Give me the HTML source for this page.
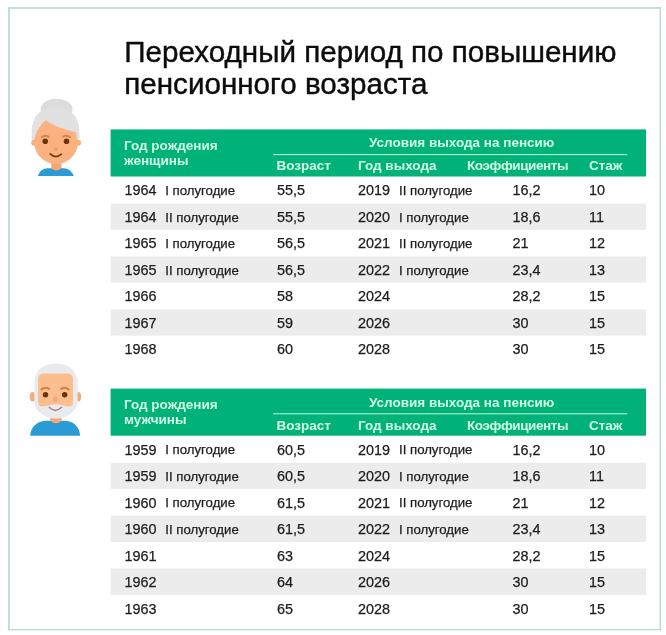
<!DOCTYPE html>
<html lang="ru"><head><meta charset="utf-8"><title>Переходный период по повышению пенсионного возраста</title>
<style>
html,body{margin:0;padding:0;background:#fff;}
body{width:666px;height:635px;position:relative;overflow:hidden;font-family:"Liberation Sans",Arial,sans-serif;color:#222;}
h1{position:absolute;left:124.3px;top:36.1px;margin:0;font-weight:normal;font-size:29.6px;line-height:31.9px;color:#0c0c0c;-webkit-text-stroke:0.4px #0c0c0c;white-space:nowrap;letter-spacing:0;}
.tbl{position:absolute;left:111px;width:535px;height:233px;}
.hd{position:absolute;left:0;top:0;width:100%;height:47.1px;color:#d2fbe4;font-weight:bold;font-size:13.5px;}
.h1{position:absolute;left:13px;top:8.4px;line-height:15.5px;white-space:nowrap;}
.h2{position:absolute;left:258px;top:6px;line-height:15px;white-space:nowrap;}
.hc{position:absolute;top:29px;line-height:15px;white-space:nowrap;}
.row{position:absolute;left:0;width:100%;height:26.33px;font-size:14.4px;line-height:26.33px;color:#1c1c1c;-webkit-text-stroke:0.25px #1c1c1c;}
.bg{position:absolute;left:0;top:0;}
.row span{position:absolute;top:-0.2px;white-space:nowrap;}
.row span.hf{font-size:13.2px;top:0.7px;}
.ico{position:absolute;}
</style></head><body>
<svg class="bg" width="666" height="635" viewBox="0 0 666 635"><rect x="8" y="7.1" width="1.8" height="623.2" fill="#b9ddd5"/><rect x="8" y="7.1" width="653" height="1.8" fill="#b9ddd5"/><rect x="659.6" y="7.1" width="1.4" height="623.2" fill="#b9ddd5"/><rect x="8" y="628.9" width="653" height="1.4" fill="#b9ddd5"/></svg>
<h1>Переходный период по повышению<br>пенсионного возраста</h1>
<svg class="ico" style="left:25px;top:95px" width="62" height="86" viewBox="25 95 62 86">
<ellipse cx="56.600" cy="109.300" rx="16" ry="10.600" fill="#dcdcdc"/>
<path d="M31.800 135 C31.800 114 41 107.800 55.500 107.800 C70 107.800 79.300 114 79.300 135 L79.300 141 L31.800 141 Z" fill="#e1e1e1"/>
<path d="M37.900 176 C39.500 171 43 168.200 47.300 168.200 L63.800 168.200 C68 168.200 72 171 73.800 176 Z" fill="#2b9bd6"/>
<path d="M51.300 160 L61.400 160 L61.400 168 Q56.300 173 51.300 168 Z" fill="#f7a672"/>
<circle cx="34.200" cy="142.800" r="3" fill="#fbb07c"/>
<circle cx="78.200" cy="142.800" r="3" fill="#fbb07c"/>
<path d="M34.300 136 C34.300 122 44 117 56 117 C68 117 78 122 78 136 L78 142 C78 156 66 164.200 56.200 164.200 C46 164.200 34.300 156 34.300 142 Z" fill="#fbb280"/>
<path d="M31.800 139.500 L31.800 130 C31.800 120 40 112 56 112 C72 112 79.300 120 79.300 130 L79.300 139.500 L77 139.500 C77 136 76.500 133.500 75 132 C64 129.500 53 125.500 46 120.200 C40 125 36 131 34.500 139.500 Z" fill="#e1e1e1"/>
<circle cx="45.200" cy="141.300" r="2.800" fill="#6b3410"/>
<circle cx="66.500" cy="141.300" r="2.800" fill="#6b3410"/>
<path d="M41.800 137.100 Q45.200 134.600 48.700 136.700" stroke="#cc8550" stroke-width="1.900" fill="none" stroke-linecap="round"/>
<path d="M63 136.700 Q66.500 134.600 70 137.100" stroke="#cc8550" stroke-width="1.900" fill="none" stroke-linecap="round"/>
<ellipse cx="55.700" cy="149.200" rx="2.100" ry="1.250" fill="#e8996c"/>
<path d="M50.300 154 Q55.800 159 61.400 154.200" stroke="#7c3d12" stroke-width="1.700" fill="none" stroke-linecap="round"/>
</svg>

<svg class="ico" style="left:25px;top:355px" width="62" height="86" viewBox="25 355 62 86">
<path d="M30.100 435.800 C30.800 427 36.500 421.200 46 420.700 L65 420.700 C74 421.200 79.500 427 80.100 435.800 Z" fill="#2b9bd6"/>
<path d="M50.300 416 L61.600 416 L61.600 420.700 Q56 426 50.300 420.700 Z" fill="#f8a576"/>
<ellipse cx="32.500" cy="396.800" rx="2.800" ry="4.700" fill="#f5ab7d"/>
<ellipse cx="78.600" cy="396.800" rx="2.500" ry="4.700" fill="#f5ab7d"/>
<path d="M34.300 384 C34.300 370 44 363.500 56 363.500 C68 363.500 77.600 370 77.600 384 L77.600 401 C77.600 411 67 418.700 56 418.700 C45 418.700 34.300 411 34.300 401 Z" fill="#e8eaed"/>
<path d="M38.100 379.500 C38.100 375.500 40.500 373.500 44 373.500 L67 373.500 C70.500 373.500 73 375.500 73 379.500 L73 402 C73 405 71 407 68 406.500 C64 405.800 60 404.200 55.600 404.200 C51 404.200 47 405.800 43 406.500 C40 407 38.100 405 38.100 402 Z" fill="#fcbe8c"/>
<path d="M49.200 407.200 Q55.400 408.600 61.600 407.200 Q55.400 413.600 49.200 407.200 Z" fill="#f6f1f1"/><path d="M49.200 407.300 Q55.400 413.400 61.600 407.300" fill="none" stroke="#b08682" stroke-width="1.500" stroke-linecap="round"/>
<circle cx="45.500" cy="394.800" r="2.750" fill="#6b3410"/>
<circle cx="64.700" cy="394.800" r="2.750" fill="#6b3410"/>
<path d="M41.600 389.600 Q44.800 386.300 49 388.800" stroke="#c98347" stroke-width="2.100" fill="none" stroke-linecap="round"/>
<path d="M61.200 388.800 Q65.400 386.300 68.600 389.600" stroke="#c98347" stroke-width="2.100" fill="none" stroke-linecap="round"/>
<ellipse cx="55.300" cy="399.300" rx="2.300" ry="3" fill="#f6a97c"/>
</svg>

<svg class="bg" width="666" height="635" viewBox="0 0 666 635">
<rect x="110.6" y="129.40" width="535.4" height="47.1" fill="#00b277"/>
<rect x="110.6" y="203.55" width="535.4" height="26.25" fill="#ececec"/>
<rect x="110.6" y="256.45" width="535.4" height="26.25" fill="#ececec"/>
<rect x="110.6" y="309.35" width="535.4" height="26.25" fill="#ececec"/>
<rect x="273.2" y="154.10" width="354" height="1" fill="#c4f5df"/>
</svg>
<div class="tbl" style="top:129.40px">
<div class="hd"><div class="h1">Год рождения<br>женщины</div><div class="h2">Условия выхода на пенсию</div><div class="hc" style="left:165.5px">Возраст</div><div class="hc" style="left:247px">Год выхода</div><div class="hc" style="left:356px;letter-spacing:-0.42px">Коэффициенты</div><div class="hc" style="left:478px">Стаж</div></div>
<div class="row" style="top:48.10px"><span class="c" style="left:13.6px">1964</span><span class="hf" style="left:54.3px">I полугодие</span><span class="c" style="left:166px">55,5</span><span class="c" style="left:247px">2019</span><span class="hf" style="left:288px">II полугодие</span><span class="c" style="left:401.5px">16,2</span><span class="c" style="left:478px">10</span></div>
<div class="row" style="top:74.62px"><span class="c" style="left:13.6px">1964</span><span class="hf" style="left:54.3px">II полугодие</span><span class="c" style="left:166px">55,5</span><span class="c" style="left:247px">2020</span><span class="hf" style="left:288px">I полугодие</span><span class="c" style="left:401.5px">18,6</span><span class="c" style="left:478px">11</span></div>
<div class="row" style="top:101.14px"><span class="c" style="left:13.6px">1965</span><span class="hf" style="left:54.3px">I полугодие</span><span class="c" style="left:166px">56,5</span><span class="c" style="left:247px">2021</span><span class="hf" style="left:288px">II полугодие</span><span class="c" style="left:401.5px">21</span><span class="c" style="left:478px">12</span></div>
<div class="row" style="top:127.66px"><span class="c" style="left:13.6px">1965</span><span class="hf" style="left:54.3px">II полугодие</span><span class="c" style="left:166px">56,5</span><span class="c" style="left:247px">2022</span><span class="hf" style="left:288px">I полугодие</span><span class="c" style="left:401.5px">23,4</span><span class="c" style="left:478px">13</span></div>
<div class="row" style="top:154.18px"><span class="c" style="left:13.6px">1966</span><span class="c" style="left:166px">58</span><span class="c" style="left:247px">2024</span><span class="c" style="left:401.5px">28,2</span><span class="c" style="left:478px">15</span></div>
<div class="row" style="top:180.70px"><span class="c" style="left:13.6px">1967</span><span class="c" style="left:166px">59</span><span class="c" style="left:247px">2026</span><span class="c" style="left:401.5px">30</span><span class="c" style="left:478px">15</span></div>
<div class="row" style="top:207.22px"><span class="c" style="left:13.6px">1968</span><span class="c" style="left:166px">60</span><span class="c" style="left:247px">2028</span><span class="c" style="left:401.5px">30</span><span class="c" style="left:478px">15</span></div>
</div>
<svg class="bg" width="666" height="635" viewBox="0 0 666 635">
<rect x="110.6" y="388.60" width="535.4" height="47.1" fill="#00b277"/>
<rect x="110.6" y="462.75" width="535.4" height="26.25" fill="#ececec"/>
<rect x="110.6" y="515.65" width="535.4" height="26.25" fill="#ececec"/>
<rect x="110.6" y="568.55" width="535.4" height="26.25" fill="#ececec"/>
<rect x="273.2" y="413.30" width="354" height="1" fill="#c4f5df"/>
</svg>
<div class="tbl" style="top:388.60px">
<div class="hd"><div class="h1">Год рождения<br>мужчины</div><div class="h2">Условия выхода на пенсию</div><div class="hc" style="left:165.5px">Возраст</div><div class="hc" style="left:247px">Год выхода</div><div class="hc" style="left:356px;letter-spacing:-0.42px">Коэффициенты</div><div class="hc" style="left:478px">Стаж</div></div>
<div class="row" style="top:48.10px"><span class="c" style="left:13.6px">1959</span><span class="hf" style="left:54.3px">I полугодие</span><span class="c" style="left:166px">60,5</span><span class="c" style="left:247px">2019</span><span class="hf" style="left:288px">II полугодие</span><span class="c" style="left:401.5px">16,2</span><span class="c" style="left:478px">10</span></div>
<div class="row" style="top:74.62px"><span class="c" style="left:13.6px">1959</span><span class="hf" style="left:54.3px">II полугодие</span><span class="c" style="left:166px">60,5</span><span class="c" style="left:247px">2020</span><span class="hf" style="left:288px">I полугодие</span><span class="c" style="left:401.5px">18,6</span><span class="c" style="left:478px">11</span></div>
<div class="row" style="top:101.14px"><span class="c" style="left:13.6px">1960</span><span class="hf" style="left:54.3px">I полугодие</span><span class="c" style="left:166px">61,5</span><span class="c" style="left:247px">2021</span><span class="hf" style="left:288px">II полугодие</span><span class="c" style="left:401.5px">21</span><span class="c" style="left:478px">12</span></div>
<div class="row" style="top:127.66px"><span class="c" style="left:13.6px">1960</span><span class="hf" style="left:54.3px">II полугодие</span><span class="c" style="left:166px">61,5</span><span class="c" style="left:247px">2022</span><span class="hf" style="left:288px">I полугодие</span><span class="c" style="left:401.5px">23,4</span><span class="c" style="left:478px">13</span></div>
<div class="row" style="top:154.18px"><span class="c" style="left:13.6px">1961</span><span class="c" style="left:166px">63</span><span class="c" style="left:247px">2024</span><span class="c" style="left:401.5px">28,2</span><span class="c" style="left:478px">15</span></div>
<div class="row" style="top:180.70px"><span class="c" style="left:13.6px">1962</span><span class="c" style="left:166px">64</span><span class="c" style="left:247px">2026</span><span class="c" style="left:401.5px">30</span><span class="c" style="left:478px">15</span></div>
<div class="row" style="top:207.22px"><span class="c" style="left:13.6px">1963</span><span class="c" style="left:166px">65</span><span class="c" style="left:247px">2028</span><span class="c" style="left:401.5px">30</span><span class="c" style="left:478px">15</span></div>
</div>
</body></html>
